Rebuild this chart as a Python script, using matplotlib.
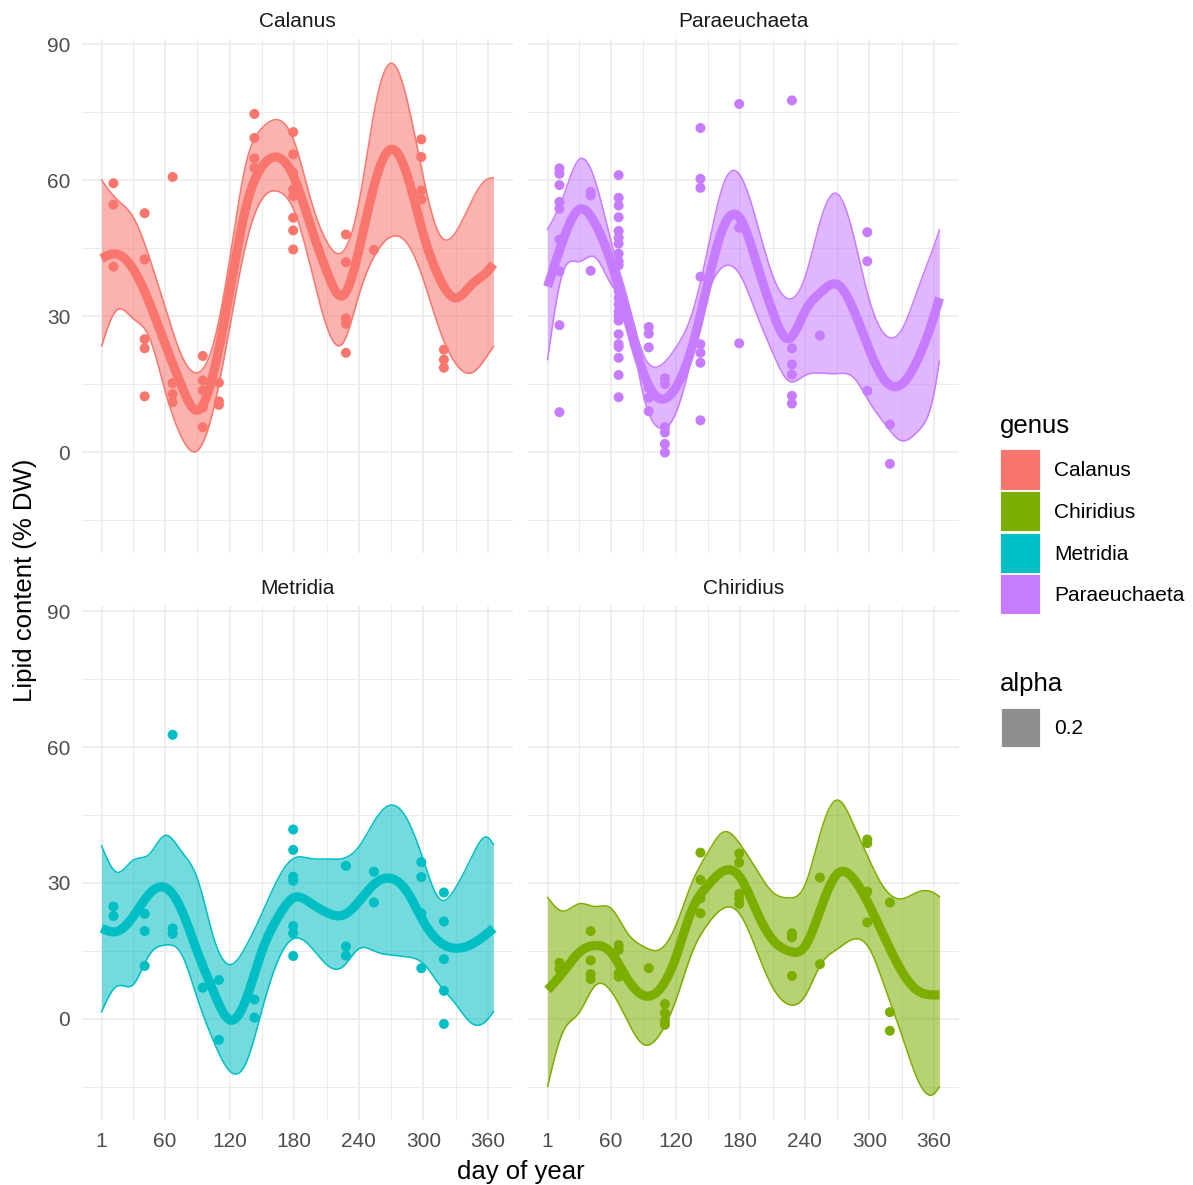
import numpy as np
import matplotlib
matplotlib.use("Agg")
import matplotlib.pyplot as plt
from matplotlib.patches import Rectangle

plt.rcParams["font.family"] = ["Liberation Sans", "DejaVu Sans"]

# ---------------------------------------------------------------- data
genera = ["Calanus", "Chiridius", "Metridia", "Paraeuchaeta"]
colors = {"Calanus": "#F8766D", "Chiridius": "#7CAE00",
          "Metridia": "#00BFC4", "Paraeuchaeta": "#C77CFF"}

# days at which the fitted smooth and its confidence band are given
fit_days = [1, 15, 30, 45, 60, 75, 90, 105, 120, 135, 150, 165, 180,
            195, 210, 225, 240, 255, 270, 285, 300, 315, 330, 345, 360, 365]

calanus_fit = [42.7, 43.7, 40.5, 33.2, 23.8, 14.8, 9.2, 17.5, 35.4, 53.9, 63.0, 65.0, 60.5,
               50.0, 40.0, 34.5, 44.5, 59.5, 66.8, 61.0, 48.0, 38.3, 34.0, 37.0, 40.0, 41.5]
calanus_hi = [60.0, 55.8, 52.0, 43.2, 32.0, 21.5, 17.5, 24.0, 42.5, 63.5, 71.5, 73.3, 68.5,
              56.0, 46.5, 44.2, 55.0, 76.0, 85.8, 77.5, 60.5, 48.0, 48.5, 55.5, 60.3, 60.5]
calanus_lo = [23.4, 31.3, 29.5, 25.5, 13.5, 3.4, 0.3, 9.5, 27.5, 45.8, 55.8, 57.5, 53.2,
              41.0, 27.8, 24.0, 34.6, 43.5, 47.5, 46.0, 38.0, 27.0, 19.5, 17.5, 21.5, 23.3]

paraeuchaeta_fit = [36.5, 46.5, 53.5, 50.5, 41.8, 29.5, 17.5, 11.8, 14.2, 23.0, 37.5, 50.0, 51.5,
                    41.8, 31.0, 25.0, 31.0, 35.3, 37.0, 31.5, 22.5, 15.6, 15.0, 20.5, 30.0, 34.0]
paraeuchaeta_hi = [49.1, 56.0, 64.5, 60.0, 46.5, 34.0, 21.5, 19.0, 23.0, 30.4, 45.0, 59.5, 61.0,
                   51.0, 39.0, 33.8, 38.5, 51.5, 57.0, 48.0, 33.5, 25.8, 27.0, 36.0, 45.5, 49.0]
paraeuchaeta_lo = [20.4, 39.5, 42.0, 43.0, 37.0, 30.0, 12.5, 5.3, 8.5, 21.0, 35.0, 41.0, 39.0,
                   30.5, 22.0, 15.7, 16.9, 17.4, 17.3, 16.5, 11.0, 6.0, 2.5, 4.6, 13.0, 20.0]

metridia_fit = [20.0, 19.3, 22.5, 27.5, 29.0, 24.2, 14.8, 6.0, -0.2, 4.2, 15.0, 22.5, 26.8,
                25.6, 23.5, 22.9, 25.9, 29.9, 31.0, 28.0, 21.5, 17.0, 15.6, 16.5, 19.0, 20.0]
metridia_hi = [38.2, 32.4, 35.0, 36.3, 40.5, 37.0, 31.0, 18.0, 12.0, 16.0, 23.3, 31.0, 35.5,
               35.4, 35.3, 35.4, 38.0, 43.9, 47.2, 44.0, 35.0, 26.5, 29.0, 35.8, 40.0, 38.5]
metridia_lo = [1.6, 7.2, 7.5, 14.0, 16.3, 14.4, 4.5, -4.9, -11.5, -9.8, 2.0, 13.0, 17.8,
               16.0, 12.0, 11.5, 15.5, 14.9, 14.1, 13.7, 12.2, 7.5, 3.3, -1.0, 0.0, 1.6]

chiridius_fit = [6.4, 10.2, 14.6, 16.2, 14.6, 8.9, 5.2, 6.5, 13.5, 24.0, 29.5, 32.7, 31.2,
                 23.8, 17.5, 15.0, 16.0, 24.5, 32.0, 31.0, 25.0, 17.5, 10.5, 6.2, 5.3, 5.3]
chiridius_hi = [26.8, 23.8, 25.4, 24.8, 24.4, 19.0, 16.0, 15.3, 20.5, 30.0, 36.8, 41.3, 38.5,
                33.0, 28.0, 26.7, 29.5, 41.5, 48.3, 43.0, 35.0, 28.5, 26.5, 28.0, 27.8, 27.0]
chiridius_lo = [-14.9, -3.0, 1.3, 7.3, 6.1, -0.3, -5.6, -3.5, 4.0, 14.5, 21.0, 24.5, 23.0,
                15.2, 7.0, 3.2, 5.0, 12.1, 15.4, 17.6, 15.5, 6.5, -3.5, -13.5, -16.5, -15.0]

# individual lipid measurements (day of year, % DW)
calanus_day = [12, 12, 12, 41, 41, 41, 41, 41, 67, 67, 67, 67, 95, 95, 95, 95, 95,
               110, 110, 110, 143, 143, 143, 143, 179, 179, 179, 179, 179, 179, 179, 179,
               228, 228, 228, 228, 228, 254, 298, 298, 298, 298, 319, 319, 319]
calanus_lip = [59.3, 54.6, 40.9, 52.7, 42.5, 24.9, 22.9, 12.3, 60.7, 15.2, 12.8, 11.0,
               21.2, 15.8, 13.6, 9.8, 5.5, 15.3, 11.2, 10.4, 74.6, 69.3, 64.8, 62.7,
               70.6, 65.7, 61.6, 58.0, 56.5, 51.7, 48.9, 44.7, 48.0, 41.9, 29.5, 28.3, 21.9,
               44.6, 69.0, 65.1, 57.7, 55.7, 22.6, 20.4, 18.6]

paraeuchaeta_day = ([12] * 9 + [41] * 3 + [67] * 23 + [95] * 6 + [110] * 6 + [143] * 8 +
                    [179] * 3 + [228] * 6 + [254] + [298] * 3 + [319] * 2)
paraeuchaeta_lip = [62.6, 61.4, 58.9, 55.2, 53.7, 46.9, 39.9, 28.0, 8.8,
                    57.4, 56.6, 40.0,
                    61.1, 56.1, 54.4, 51.8, 48.8, 47.3, 46.0, 43.8, 42.1, 41.2, 37.0, 35.5,
                    34.0, 32.6, 31.1, 30.0, 29.0, 26.0, 23.8, 23.2, 20.8, 17.0, 12.1,
                    27.6, 26.1, 23.1, 14.2, 12.0, 9.0,
                    16.3, 15.0, 5.5, 4.3, 1.8, -0.1,
                    71.5, 60.3, 58.3, 38.7, 23.8, 21.9, 19.7, 7.0,
                    76.8, 49.5, 24.0,
                    77.6, 22.9, 19.3, 17.1, 12.4, 10.7,
                    25.7,
                    48.5, 42.1, 13.5,
                    6.1, -2.6]

metridia_day = ([12] * 2 + [41] * 3 + [67] * 3 + [95] + [110] * 2 + [143] * 2 + [179] * 7 +
                [228] * 3 + [254] * 2 + [298] * 4 + [319] * 5)
metridia_lip = [24.8, 22.7, 23.2, 19.4, 11.7, 62.7, 20.0, 18.8, 6.9, 8.6, -4.6, 4.3, 0.3,
                41.8, 37.3, 31.4, 30.5, 20.5, 18.9, 13.9, 33.8, 16.0, 14.0, 32.5, 25.7,
                34.6, 31.3, 23.3, 11.2, 27.9, 21.5, 13.2, 6.2, -1.1]

chiridius_day = ([12] * 2 + [41] * 4 + [67] * 4 + [95] + [110] * 4 + [143] * 4 + [179] * 5 +
                 [228] * 3 + [254] * 2 + [298] * 4 + [319] * 3)
chiridius_lip = [12.4, 11.0, 19.4, 12.9, 9.9, 8.8, 16.3, 15.2, 10.1, 9.3, 11.2,
                 3.3, 1.3, -0.4, -1.3, 36.7, 30.7, 26.6, 23.3, 36.5, 34.5, 27.6, 26.6, 25.4,
                 18.9, 18.0, 9.5, 31.2, 12.1, 39.6, 38.8, 28.1, 21.3, 25.7, 1.5, -2.6]

x_breaks = [1, 60, 120, 180, 240, 300, 360]
x_minor = [30.5, 90, 150, 210, 270, 330]
y_breaks = [0, 30, 60, 90]
y_minor = [-15, 15, 45, 75]

series = {
    "Calanus": (calanus_day, calanus_lip, calanus_fit, calanus_lo, calanus_hi),
    "Paraeuchaeta": (paraeuchaeta_day, paraeuchaeta_lip, paraeuchaeta_fit,
                     paraeuchaeta_lo, paraeuchaeta_hi),
    "Metridia": (metridia_day, metridia_lip, metridia_fit, metridia_lo, metridia_hi),
    "Chiridius": (chiridius_day, chiridius_lip, chiridius_fit, chiridius_lo, chiridius_hi),
}
panel_order = ["Calanus", "Paraeuchaeta", "Metridia", "Chiridius"]


def natural_spline(x, y, n=500):
    """Draw a smooth curve through the given values (natural cubic spline)."""
    x = np.asarray(x, float)
    y = np.asarray(y, float)
    k = len(x)
    h = np.diff(x)
    A = np.zeros((k, k))
    r = np.zeros(k)
    A[0, 0] = A[-1, -1] = 1.0
    for i in range(1, k - 1):
        A[i, i - 1] = h[i - 1]
        A[i, i] = 2 * (h[i - 1] + h[i])
        A[i, i + 1] = h[i]
        r[i] = 6 * ((y[i + 1] - y[i]) / h[i] - (y[i] - y[i - 1]) / h[i - 1])
    M = np.linalg.solve(A, r)
    xs = np.linspace(x[0], x[-1], n)
    j = np.clip(np.searchsorted(x, xs) - 1, 0, k - 2)
    hh = x[j + 1] - x[j]
    a = (x[j + 1] - xs) / hh
    b = (xs - x[j]) / hh
    ys = a * y[j] + b * y[j + 1] + ((a ** 3 - a) * M[j] + (b ** 3 - b) * M[j + 1]) * hh ** 2 / 6
    return xs, ys


# ---------------------------------------------------------------- figure
W, H = 1193, 1185
fig = plt.figure(figsize=(W / 100, H / 100), dpi=100)
fig.patch.set_facecolor("white")

col_left = [82, 528]
row_top = [39.4, 606.3]
pw, ph = 431, 513.5
xlim = (-17.2, 383.2)
ylim = (-22.25, 91.05)
grid_col = "#EBEBEB"

for idx, genus in enumerate(panel_order):
    r, c = divmod(idx, 2)
    left, top = col_left[c], row_top[r]
    ax = fig.add_axes([left / W, 1 - (top + ph) / H, pw / W, ph / H])
    ax.set_xlim(*xlim)
    ax.set_ylim(*ylim)
    for s in ax.spines.values():
        s.set_visible(False)
    for v in x_minor:
        ax.axvline(v, color=grid_col, lw=0.7, zorder=0)
    for v in y_minor:
        ax.axhline(v, color=grid_col, lw=0.7, zorder=0)
    for v in x_breaks:
        ax.axvline(v, color=grid_col, lw=1.2, zorder=0)
    for v in y_breaks:
        ax.axhline(v, color=grid_col, lw=1.2, zorder=0)

    day, lip, fit, lo, hi = series[genus]
    col = colors[genus]
    ax.scatter(day, lip, s=52, color=col, edgecolors="none", zorder=2)
    xs, ylo = natural_spline(fit_days, lo)
    _, yhi = natural_spline(fit_days, hi)
    _, yfit = natural_spline(fit_days, fit)
    ax.fill_between(xs, ylo, yhi, color=col, alpha=0.55, lw=0, zorder=3)
    ax.plot(xs, ylo, color=col, lw=1.1, zorder=4)
    ax.plot(xs, yhi, color=col, lw=1.1, zorder=4)
    ax.plot(xs, yfit, color=col, lw=6.6, solid_capstyle="butt", zorder=5)

    ax.set_xticks(x_breaks)
    ax.set_yticks(y_breaks)
    ax.tick_params(length=0, labelsize=15, labelcolor="#4D4D4D", pad=8.5)
    ax.tick_params(axis="x", pad=9)
    if r == 0:
        ax.set_xticklabels([])
    else:
        ax.set_xticklabels([str(v) for v in x_breaks])
    if c == 1:
        ax.set_yticklabels([])
    else:
        ax.set_yticklabels([str(v) for v in y_breaks])

    ax.text(0.5, 1 + 17.5 / ph, genus, transform=ax.transAxes, ha="center", va="center",
            fontsize=15, color="#1A1A1A")

# axis titles
fig.text(25 / W, 1 - 580 / H, "Lipid content (% DW)", rotation=90, ha="center",
         va="center", fontsize=18.5, color="black")
fig.text(520.5 / W, 1 - 1172 / H, "day of year", ha="center", va="center",
         fontsize=18.5, color="black")

# legend: genus
fig.text(1000 / W, 1 - 426 / H, "genus", ha="left", va="center", fontsize=18.5)
key_tops = [449.5, 491, 532.7, 574.3]
for g, kt in zip(genera, key_tops):
    fig.add_artist(Rectangle((1000 / W, 1 - (kt + 40) / H), 40 / W, 40 / H,
                             transform=fig.transFigure, facecolor=colors[g],
                             edgecolor="white", lw=0.6))
    fig.text(1054 / W, 1 - (kt + 21.5) / H, g, ha="left", va="center", fontsize=15,
             color="black")

# legend: alpha
fig.text(1000 / W, 1 - 684 / H, "alpha", ha="left", va="center", fontsize=18.5)
fig.add_artist(Rectangle((1001 / W, 1 - 746.5 / H), 38.5 / W, 38.5 / H,
                         transform=fig.transFigure, facecolor="#8E8E8E",
                         edgecolor="white", lw=0.6))
fig.text(1054 / W, 1 - 728.5 / H, "0.2", ha="left", va="center", fontsize=15, color="black")

fig.savefig("out.png", dpi=100, facecolor="white")
